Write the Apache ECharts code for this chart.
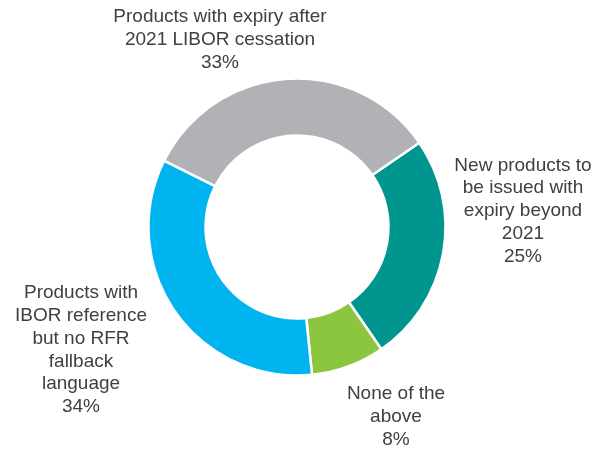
<!DOCTYPE html>
<html>
<head>
<meta charset="utf-8">
<script src="https://cdn.jsdelivr.net/npm/echarts@6/dist/echarts.min.js"></script>
<style>
html,body{margin:0;padding:0;background:#fff;}
#chart{width:594px;height:449px;}
</style>
</head>
<body>
<div id="chart"></div>
<script>
// Data (clockwise order starting from the upper-right)
var categories = [
  "New products to\nbe issued with\nexpiry beyond\n2021",
  "None of the\nabove",
  "Products with\nIBOR reference\nbut no RFR\nfallback\nlanguage",
  "Products with expiry after\n2021 LIBOR cessation"
];
var values = [25, 8, 34, 33];
var colors = ["#00968F", "#8CC63F", "#00B5EF", "#B1B2B5"];

// Label placement (layout only)
var labelPos = [
  {x: 523, y: 211},
  {x: 396, y: 417},
  {x: 81, y: 350},
  {x: 220, y: 40}
];

var chart = echarts.init(document.getElementById('chart'));
chart.setOption({
  animation: false,
  backgroundColor: '#ffffff',
  series: [{
    type: 'pie',
    center: [297, 227],
    radius: [91.5, 148.5],
    startAngle: 34.6,
    clockwise: true,
    avoidLabelOverlap: false,
    itemStyle: {borderColor: '#ffffff', borderWidth: 2.5},
    label: {
      show: true,
      position: 'outside',
      formatter: function (p) { return p.name + '\n' + p.value + '%'; },
      fontFamily: 'Liberation Sans, Arial, sans-serif',
      fontSize: 19,
      lineHeight: 22.8,
      color: '#404040',
      align: 'center'
    },
    labelLine: {show: false},
    labelLayout: function (p) {
      var pos = labelPos[p.dataIndex];
      return {x: pos.x, y: pos.y, align: 'center', verticalAlign: 'middle'};
    },
    emphasis: {disabled: true},
    data: categories.map(function (c, i) {
      return {name: c, value: values[i], itemStyle: {color: colors[i]}};
    })
  }]
});
</script>
</body>
</html>
